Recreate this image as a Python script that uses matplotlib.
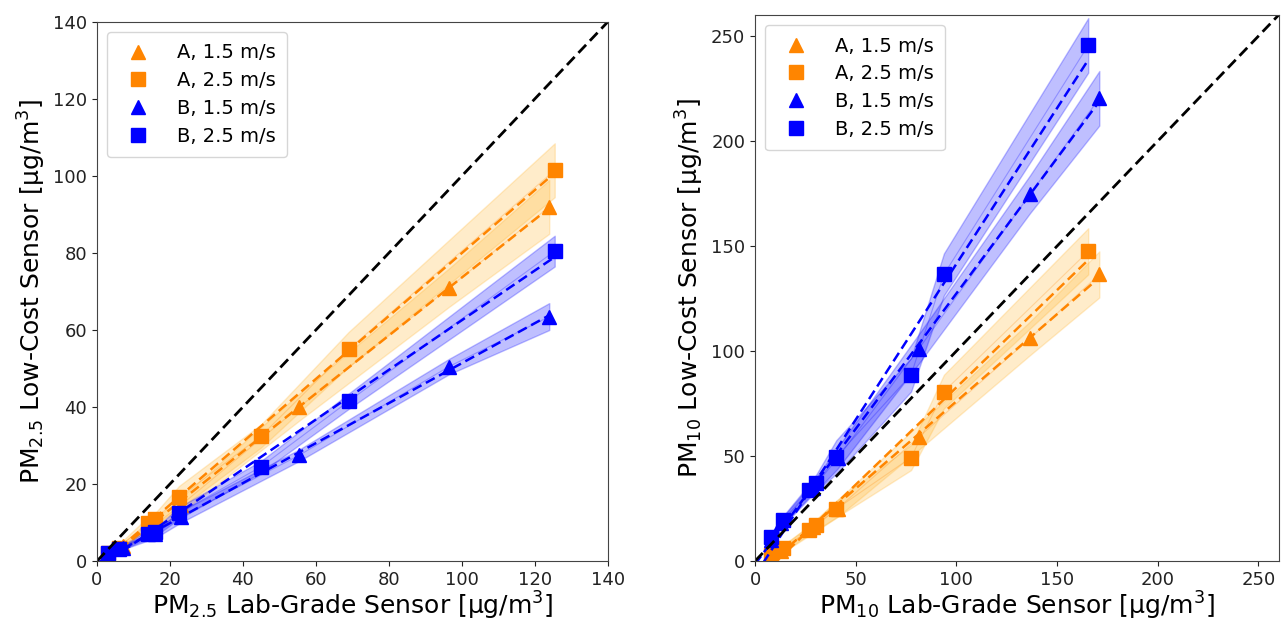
import numpy as np
import matplotlib
matplotlib.use("Agg")
import matplotlib.pyplot as plt

ORANGE = "#ff8500"
ORANGE_BAND = "#ffb52e"
BLUE = "#0000ff"

# PM2.5 panel
pm25_x_tri = [3, 7, 16, 23, 55.5, 96.5, 124]
pm25_x_sq = [3, 6, 14, 16, 22.5, 45, 69, 125.5]
pm25_a15 = [2, 4, 9.5, 14.5, 40, 71, 92]
pm25_a15_err = [0.5, 0.8, 1.5, 2, 3.5, 5, 7]
pm25_a25 = [2, 3.5, 10, 11, 16.5, 32.5, 55, 101.5]
pm25_a25_err = [0.5, 0.8, 1.5, 1.5, 3, 3, 4.5, 7]
pm25_b15 = [1.5, 3.5, 7, 11.5, 27.5, 50.5, 63.5]
pm25_b15_err = [0.3, 0.5, 1, 1.5, 1.5, 2, 3.5]
pm25_b25 = [2, 3, 7, 7.5, 12.5, 24.5, 41.5, 80.5]
pm25_b25_err = [0.3, 0.5, 1, 1, 1.5, 1.5, 2, 4]

# PM10 panel
pm10_x_tri = [8, 13, 29, 41, 81.3, 136.5, 171]
pm10_x_sq = [7.8, 14, 27, 30.4, 40.4, 77.5, 93.8, 165.5]
pm10_a15 = [2, 5, 16, 25, 59, 106, 136.5]
pm10_a15_err = [1, 1.5, 2.5, 4, 6, 8, 11]
pm10_a25 = [2.7, 6.2, 14.7, 17.2, 24.8, 49.3, 80.7, 147.5]
pm10_a25_err = [1, 1.5, 2, 2.5, 4, 6, 8, 11]
pm10_b15 = [10, 18, 35, 49, 101, 174.6, 220.4]
pm10_b15_err = [1, 2, 3, 5, 7, 9, 13]
pm10_b25 = [11.5, 19.5, 33.7, 37.2, 49.6, 88.7, 136.5, 245.6]
pm10_b25_err = [1.5, 2, 3, 4, 8, 8, 10, 13]

labels = ["A, 1.5 m/s", "A, 2.5 m/s", "B, 1.5 m/s", "B, 2.5 m/s"]


def draw_series(ax, x, y, err, color, band, marker, label):
    x = np.asarray(x, float)
    y = np.asarray(y, float)
    err = np.asarray(err, float)
    ax.fill_between(x, y - err, y + err, color=band, alpha=0.25, lw=1.0)
    ax.plot(x, y, color=color, lw=0.8, alpha=0.25)
    # linear fit, drawn from the origin side up to the last point
    k, b = np.polyfit(x, y, 1)
    xs = np.array([0.0, x.max()])
    ax.plot(xs, k * xs + b, "--", color=color, lw=1.8, dashes=(4, 2))
    ax.plot(x, y, ls="none", marker=marker, ms=10, color=color, label=label)


def panel(ax, xt, xs, series, lim, ticks, sub):
    specs = [(xt, ORANGE, ORANGE_BAND, "^"), (xs, ORANGE, ORANGE_BAND, "s"),
             (xt, BLUE, BLUE, "^"), (xs, BLUE, BLUE, "s")]
    for (x, c, bc, m), (y, e), lab in zip(specs, series, labels):
        draw_series(ax, x, y, e, c, bc, m, lab)
    ax.plot([0, lim], [0, lim], "--", color="black", lw=2, dashes=(4, 2))
    ax.set_xlim(0, lim)
    ax.set_ylim(0, lim)
    ax.set_xticks(ticks)
    ax.set_yticks(ticks)
    ax.tick_params(labelsize=13, colors="#222222")
    for s in ax.spines.values():
        s.set_color("#444444")
    ax.set_xlabel(r"PM$_{%s}$ Lab-Grade Sensor [$\mathregular{\mu}$g/m$^3$]" % sub,
                  fontsize=18, labelpad=1)
    ax.set_ylabel(r"PM$_{%s}$ Low-Cost Sensor [$\mathregular{\mu}$g/m$^3$]" % sub,
                  fontsize=18)
    ax.legend(loc="upper left", fontsize=14, handletextpad=1.0,
              borderpad=0.6, labelspacing=0.45)


fig = plt.figure(figsize=(12.83, 6.26), dpi=100)
ax1 = fig.add_axes([0.0756, 0.1038, 0.398, 0.861])
ax2 = fig.add_axes([0.5885, 0.1038, 0.408, 0.872])

panel(ax1, pm25_x_tri, pm25_x_sq,
      [(pm25_a15, pm25_a15_err), (pm25_a25, pm25_a25_err),
       (pm25_b15, pm25_b15_err), (pm25_b25, pm25_b25_err)],
      140, range(0, 141, 20), "2.5")
panel(ax2, pm10_x_tri, pm10_x_sq,
      [(pm10_a15, pm10_a15_err), (pm10_a25, pm10_a25_err),
       (pm10_b15, pm10_b15_err), (pm10_b25, pm10_b25_err)],
      260, range(0, 251, 50), "10")

fig.savefig("out.png", dpi=100)
